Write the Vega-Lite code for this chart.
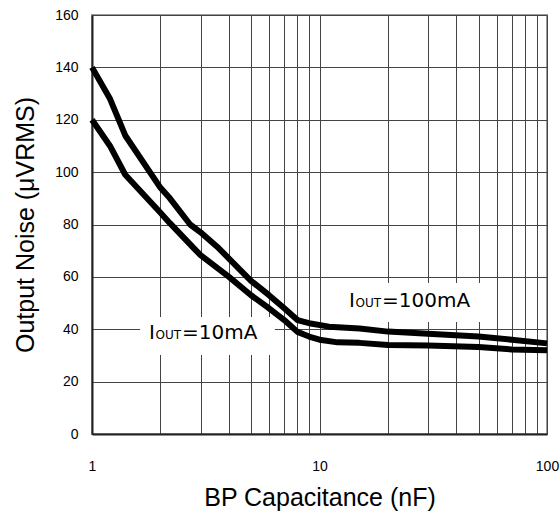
{
  "$schema": "https://vega.github.io/schema/vega-lite/v6.json",
  "width": 455,
  "height": 419,
  "autosize": {"type": "none"},
  "padding": {"left": 92, "top": 15, "right": 12, "bottom": 82},
  "background": "white",
  "config": {
    "view": {"stroke": "#999999", "strokeWidth": 2},
    "font": "Liberation Sans"
  },
  "datasets": {
    "curves": [
      {"x": 1, "y": 140, "s": "100mA"},
      {"x": 1.2, "y": 128, "s": "100mA"},
      {"x": 1.4, "y": 114, "s": "100mA"},
      {"x": 2, "y": 94, "s": "100mA"},
      {"x": 2.2, "y": 90, "s": "100mA"},
      {"x": 2.7, "y": 80, "s": "100mA"},
      {"x": 3, "y": 77, "s": "100mA"},
      {"x": 3.6, "y": 71, "s": "100mA"},
      {"x": 4, "y": 67, "s": "100mA"},
      {"x": 5, "y": 58.5, "s": "100mA"},
      {"x": 6, "y": 53, "s": "100mA"},
      {"x": 7, "y": 48, "s": "100mA"},
      {"x": 8, "y": 43.5, "s": "100mA"},
      {"x": 9, "y": 42.3, "s": "100mA"},
      {"x": 11, "y": 41, "s": "100mA"},
      {"x": 15, "y": 40.3, "s": "100mA"},
      {"x": 20, "y": 39.1, "s": "100mA"},
      {"x": 30, "y": 38.3, "s": "100mA"},
      {"x": 50, "y": 37.2, "s": "100mA"},
      {"x": 70, "y": 36, "s": "100mA"},
      {"x": 100, "y": 34.6, "s": "100mA"},
      {"x": 1, "y": 120, "s": "10mA"},
      {"x": 1.2, "y": 110, "s": "10mA"},
      {"x": 1.4, "y": 99, "s": "10mA"},
      {"x": 2, "y": 84.5, "s": "10mA"},
      {"x": 2.2, "y": 80.5, "s": "10mA"},
      {"x": 2.8, "y": 71, "s": "10mA"},
      {"x": 3, "y": 68.3, "s": "10mA"},
      {"x": 4, "y": 60, "s": "10mA"},
      {"x": 5, "y": 53, "s": "10mA"},
      {"x": 6, "y": 48, "s": "10mA"},
      {"x": 7, "y": 43.5, "s": "10mA"},
      {"x": 8, "y": 39, "s": "10mA"},
      {"x": 9, "y": 37.2, "s": "10mA"},
      {"x": 10, "y": 36, "s": "10mA"},
      {"x": 12, "y": 35, "s": "10mA"},
      {"x": 15, "y": 34.8, "s": "10mA"},
      {"x": 20, "y": 34, "s": "10mA"},
      {"x": 30, "y": 33.8, "s": "10mA"},
      {"x": 50, "y": 33.2, "s": "10mA"},
      {"x": 70, "y": 32.3, "s": "10mA"},
      {"x": 100, "y": 32, "s": "10mA"}
    ],
    "boxes": [
      {"x": 1.627, "x2": 6.37, "y": 30.2, "y2": 44.7},
      {"x": 12.3, "x2": 56, "y": 42.8, "y2": 57.7}
    ],
    "labels": [
      {"x": 1.78, "y": 36.3, "t1": "I", "t2": "OUT", "t3": "=10mA"},
      {"x": 13.48, "y": 48.5, "t1": "I", "t2": "OUT", "t3": "=100mA"}
    ]
  },
  "encoding": {
    "x": {
      "field": "x",
      "type": "quantitative",
      "scale": {"type": "log", "domain": [1, 100]},
      "axis": {
        "values": [1, 2, 3, 4, 5, 6, 7, 8, 9, 10, 20, 30, 40, 50, 60, 70, 80, 90, 100],
        "labelExpr": "indexof([1, 10, 100], datum.value) >= 0 ? format(datum.value, 'd') : ''",
        "grid": true,
        "gridColor": "#444444",
        "gridWidth": 1,
        "gridOpacity": 1,
        "ticks": false,
        "domain": true,
        "domainColor": "#222222",
        "domainWidth": 2,
        "labelFontSize": 14,
        "labelColor": "black",
        "labelPadding": 25,
        "labelFlush": false,
        "labelOverlap": false,
        "title": "BP Capacitance (nF)",
        "titleFontSize": 25,
        "titleFontWeight": "normal",
        "titleColor": "black",
        "titlePadding": 12
      }
    },
    "y": {
      "field": "y",
      "type": "quantitative",
      "scale": {"domain": [0, 160], "nice": false, "zero": true},
      "axis": {
        "values": [0, 20, 40, 60, 80, 100, 120, 140, 160],
        "grid": true,
        "gridColor": "#444444",
        "gridWidth": 1,
        "gridOpacity": 1,
        "ticks": false,
        "domain": true,
        "domainColor": "#222222",
        "domainWidth": 2,
        "labelFontSize": 14,
        "labelColor": "black",
        "labelPadding": 14,
        "title": "Output Noise (μVRMS)",
        "titleFontSize": 25,
        "titleFontWeight": "normal",
        "titleColor": "black",
        "titlePadding": 16
      }
    }
  },
  "layer": [
    {
      "data": {"name": "boxes"},
      "mark": {"type": "rect", "fill": "white", "stroke": null},
      "encoding": {
        "x2": {"field": "x2"},
        "y2": {"field": "y2"}
      }
    },
    {
      "data": {"name": "curves"},
      "mark": {"type": "line", "color": "black", "strokeWidth": 6, "strokeJoin": "round", "strokeCap": "butt"},
      "encoding": {"detail": {"field": "s"}}
    },
    {
      "data": {"name": "labels"},
      "mark": {"type": "text", "align": "left", "baseline": "alphabetic", "font": "DejaVu Sans", "fontSize": 20, "color": "black"},
      "encoding": {"text": {"field": "t1"}}
    },
    {
      "data": {"name": "labels"},
      "mark": {"type": "text", "align": "left", "baseline": "alphabetic", "font": "DejaVu Sans", "fontSize": 12, "dx": 6.5, "color": "black"},
      "encoding": {"text": {"field": "t2"}}
    },
    {
      "data": {"name": "labels"},
      "mark": {"type": "text", "align": "left", "baseline": "alphabetic", "font": "DejaVu Sans", "fontSize": 20, "dx": 33, "color": "black"},
      "encoding": {"text": {"field": "t3"}}
    }
  ]
}
